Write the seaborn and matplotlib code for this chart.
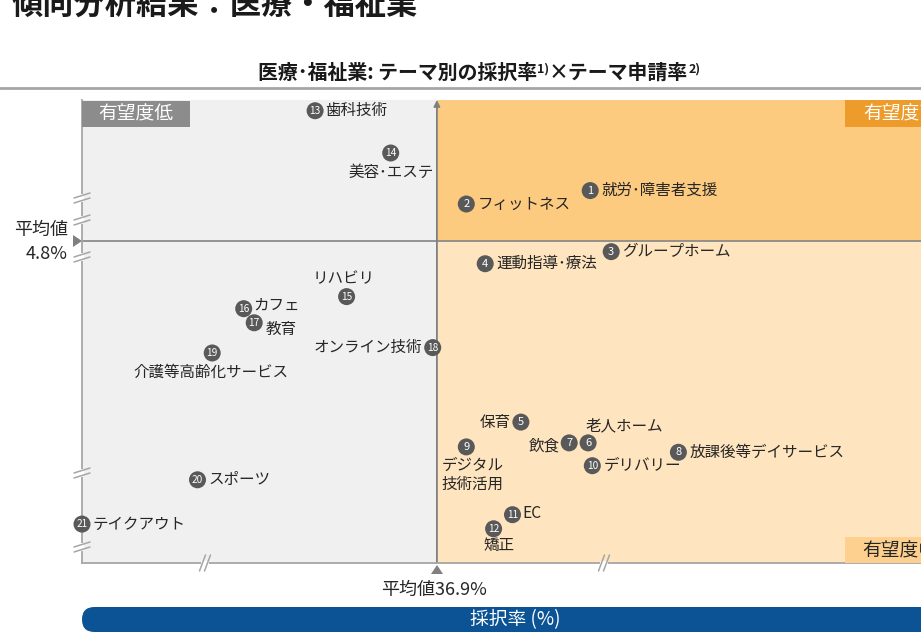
import matplotlib
matplotlib.use("Agg")
import matplotlib.pyplot as plt
import seaborn as sns
import pandas as pd
from matplotlib.patches import Rectangle, FancyBboxPatch, Polygon
from matplotlib.lines import Line2D
from matplotlib.transforms import Affine2D

# ---------------- data ----------------
theme_no = list(range(1, 22))
theme_names = ["就労･障害者支援", "フィットネス", "グループホーム", "運動指導･療法", "保育",
               "老人ホーム", "飲食", "放課後等デイサービス", "デジタル\n技術活用", "デリバリー",
               "EC", "矯正", "歯科技術", "美容･エステ", "リハビリ",
               "カフェ", "教育", "オンライン技術", "介護等高齢化サービス", "スポーツ",
               "テイクアウト"]
adoption_rate = [44.2, 38.3, 45.2, 39.2, 40.9, 44.1, 43.2, 48.4, 38.3, 44.3,
                 40.5, 39.6, 31.1, 34.7, 32.6, 27.7, 28.2, 36.7, 26.2, 25.5, 20.0]
application_rate = [5.55, 5.35, 4.64, 4.46, 2.10, 1.79, 1.79, 1.65, 1.73, 1.45,
                    0.72, 0.51, 6.74, 6.11, 3.97, 3.79, 3.58, 3.21, 3.13, 1.24, 0.58]
avg_adoption = 36.9
avg_application = 4.8
quadrant_labels = ["有望度低", "有望度高", "有望度中"]

df = pd.DataFrame({"no": theme_no, "name": theme_names,
                   "adoption": adoption_rate, "application": application_rate})

# ---------------- style ----------------
sns.set_theme(style="white")
plt.rcParams['font.family'] = ['Noto Sans CJK JP', 'DejaVu Sans']

W, H = 921, 638
fig = plt.figure(figsize=(W / 100, H / 100), dpi=100)
fig.patch.set_facecolor("white")
PX = Affine2D().scale(1 / W, -1 / H).translate(0, 1) + fig.transFigure

X0, X1 = 20, 62
Y0, Y1 = 0, 6.9
ax = fig.add_axes([82 / W, 75 / H, 882 / W, 463 / H])
ax.set_xlim(X0, X1)
ax.set_ylim(Y0, Y1)
ax.set_facecolor("none")
for s in ["top", "right"]:
    ax.spines[s].set_visible(False)
for s in ["left", "bottom"]:
    ax.spines[s].set_color("#a6a6a6")
    ax.spines[s].set_linewidth(1.3)
ax.set_xticks([])
ax.set_yticks([])

# quadrants
ax.add_patch(Rectangle((X0, Y0), avg_adoption - X0, Y1 - Y0, fc="#f0f0f0", ec="none", zorder=0))
ax.add_patch(Rectangle((avg_adoption, avg_application), X1 - avg_adoption, Y1 - avg_application,
                       fc="#fdcb80", ec="none", zorder=0))
ax.add_patch(Rectangle((avg_adoption, Y0), X1 - avg_adoption, avg_application - Y0,
                       fc="#fee5bf", ec="none", zorder=0))

ax.axhline(avg_application, color="#8c8c8c", lw=1.3, zorder=1)
ax.annotate("", xy=(avg_adoption, Y1), xytext=(avg_adoption, Y0),
            arrowprops=dict(arrowstyle="-|>", color="#808080", lw=1.3,
                            mutation_scale=9, shrinkA=0, shrinkB=0), zorder=2)

# points
sns.scatterplot(data=df, x="adoption", y="application", s=150, color="#595959",
                edgecolor="none", ax=ax, zorder=5, legend=False)
ax.collections[-1].set_clip_on(False)
ax.set_xlabel("")
ax.set_ylabel("")
for _, r in df.iterrows():
    ax.text(r["adoption"], r["application"], str(r["no"]), ha="center", va="center",
            color="white", fontsize=8 if r["no"] < 10 else 7.3, zorder=6)

label_pos = {1: (11, 0, "left"), 2: (11, 0, "left"), 3: (11, 0, "left"), 4: (11, 0, "left"),
             5: (-10, 0, "right"), 6: (-3, -17, "left"), 7: (-9, 3, "right"),
             8: (11, 0, "left"), 9: (-25, 10, "left"), 10: (11, 0, "left"),
             11: (10, -1, "left"), 12: (5, 17, "center"), 13: (10, 0, "left"),
             14: (0, 19, "center"), 15: (-3, -18, "center"), 16: (10, -4, "left"),
             17: (12, 7, "left"), 18: (-11, 0, "right"), 19: (-1, 19, "center"),
             20: (11, 0, "left"), 21: (11, 0, "left")}
for _, r in df.iterrows():
    dx, dy, ha = label_pos[r["no"]]
    va = "top" if "\n" in r["name"] else "center"
    ax.annotate(r["name"], (r["adoption"], r["application"]), xytext=(dx, -dy),
                textcoords="offset pixels", ha=ha, va=va, fontsize=11.2,
                color="#262626", zorder=7, linespacing=1.15)

# quadrant label boxes
def box(x, y, w, h, fc):
    fig.add_artist(Rectangle((x, y), w, h, transform=PX, fc=fc, ec="none", zorder=3))

box(82, 101, 108, 26, "#8c8c8c")
fig.text(136, 114, quadrant_labels[0], transform=PX, ha="center", va="center",
         color="white", fontsize=13.5, zorder=4)
box(845, 100, 120, 27, "#ed9b2a")
fig.text(863, 114, quadrant_labels[1], transform=PX, ha="left", va="center",
         color="white", fontsize=13.5, zorder=4)
box(845, 537, 120, 26, "#fdd08f")
fig.text(862, 550, quadrant_labels[2], transform=PX, ha="left", va="center",
         color="#262626", fontsize=13.5, zorder=4)

# axis break marks
def break_left(y0):
    fig.add_artist(Line2D([82, 82], [y0 - 2, y0 + 2], transform=PX, color="white", lw=3, zorder=3))
    for off in (-2.5, 2.5):
        fig.add_artist(Line2D([74, 90], [y0 + 2.5 + off, y0 - 2.5 + off], transform=PX,
                              color="#a6a6a6", lw=1.1, zorder=4))

def break_bottom(x0):
    fig.add_artist(Line2D([x0 - 2, x0 + 2], [563, 563], transform=PX, color="white", lw=3, zorder=3))
    for off in (-2.5, 2.5):
        fig.add_artist(Line2D([x0 - 3 + off, x0 + 3 + off], [571, 555], transform=PX,
                              color="#a6a6a6", lw=1.1, zorder=4))

for yb in (198, 220, 257, 473, 547):
    break_left(yb)
for xb in (205, 604):
    break_bottom(xb)

# average markers
fig.add_artist(Polygon([[73, 235], [73, 247], [82, 241]], closed=True, transform=PX,
                       fc="#808080", ec="none", zorder=4))
fig.add_artist(Polygon([[431, 574], [443, 574], [437, 565]], closed=True, transform=PX,
                       fc="#808080", ec="none", zorder=4))
fig.text(68, 230, "平均値", transform=PX, ha="right", va="center", fontsize=13, color="#262626")
fig.text(68, 254, f"{avg_application}%", transform=PX, ha="right", va="center",
         fontsize=13, color="#262626")
fig.text(381, 590, f"平均値{avg_adoption}%", transform=PX, ha="left", va="center",
         fontsize=13, color="#262626")

# x axis label bar
fig.add_artist(FancyBboxPatch((82, 607), 900, 25, boxstyle="round,pad=0,rounding_size=12.5",
                              transform=PX, fc="#0b5394", ec="none", zorder=3))
fig.text(470, 620, "採択率 (%)", transform=PX, ha="left", va="center", fontsize=13.5,
         color="white", zorder=4)

# title
fig.text(12, 15, "傾向分析結果：医療・福祉業", transform=PX, ha="left", va="baseline",
         fontsize=22.5, fontweight="bold", color="#1a1a1a")

# subtitle with superscripts
renderer = fig.canvas.get_renderer()
pieces = [("医療･福祉業: テーマ別の採択率", 14.3, 0), ("1)", 9, 6),
          ("×テーマ申請率", 14.3, 0), ("2)", 9, 6)]
texts = []
total = 0
for s, fs, up in pieces:
    t = fig.text(0, 79 - up, s, transform=PX, ha="left", va="baseline", fontsize=fs,
                 fontweight="bold", color="#1a1a1a")
    w = t.get_window_extent(renderer).width
    texts.append((t, w, up))
    total += w
x = 479 - total / 2
for t, w, up in texts:
    t.set_position((x, 79 - up))
    x += w

fig.add_artist(Line2D([0, W], [88, 88], transform=PX, color="#a6a6a6", lw=2, zorder=3))

fig.savefig("out.png", dpi=100)
